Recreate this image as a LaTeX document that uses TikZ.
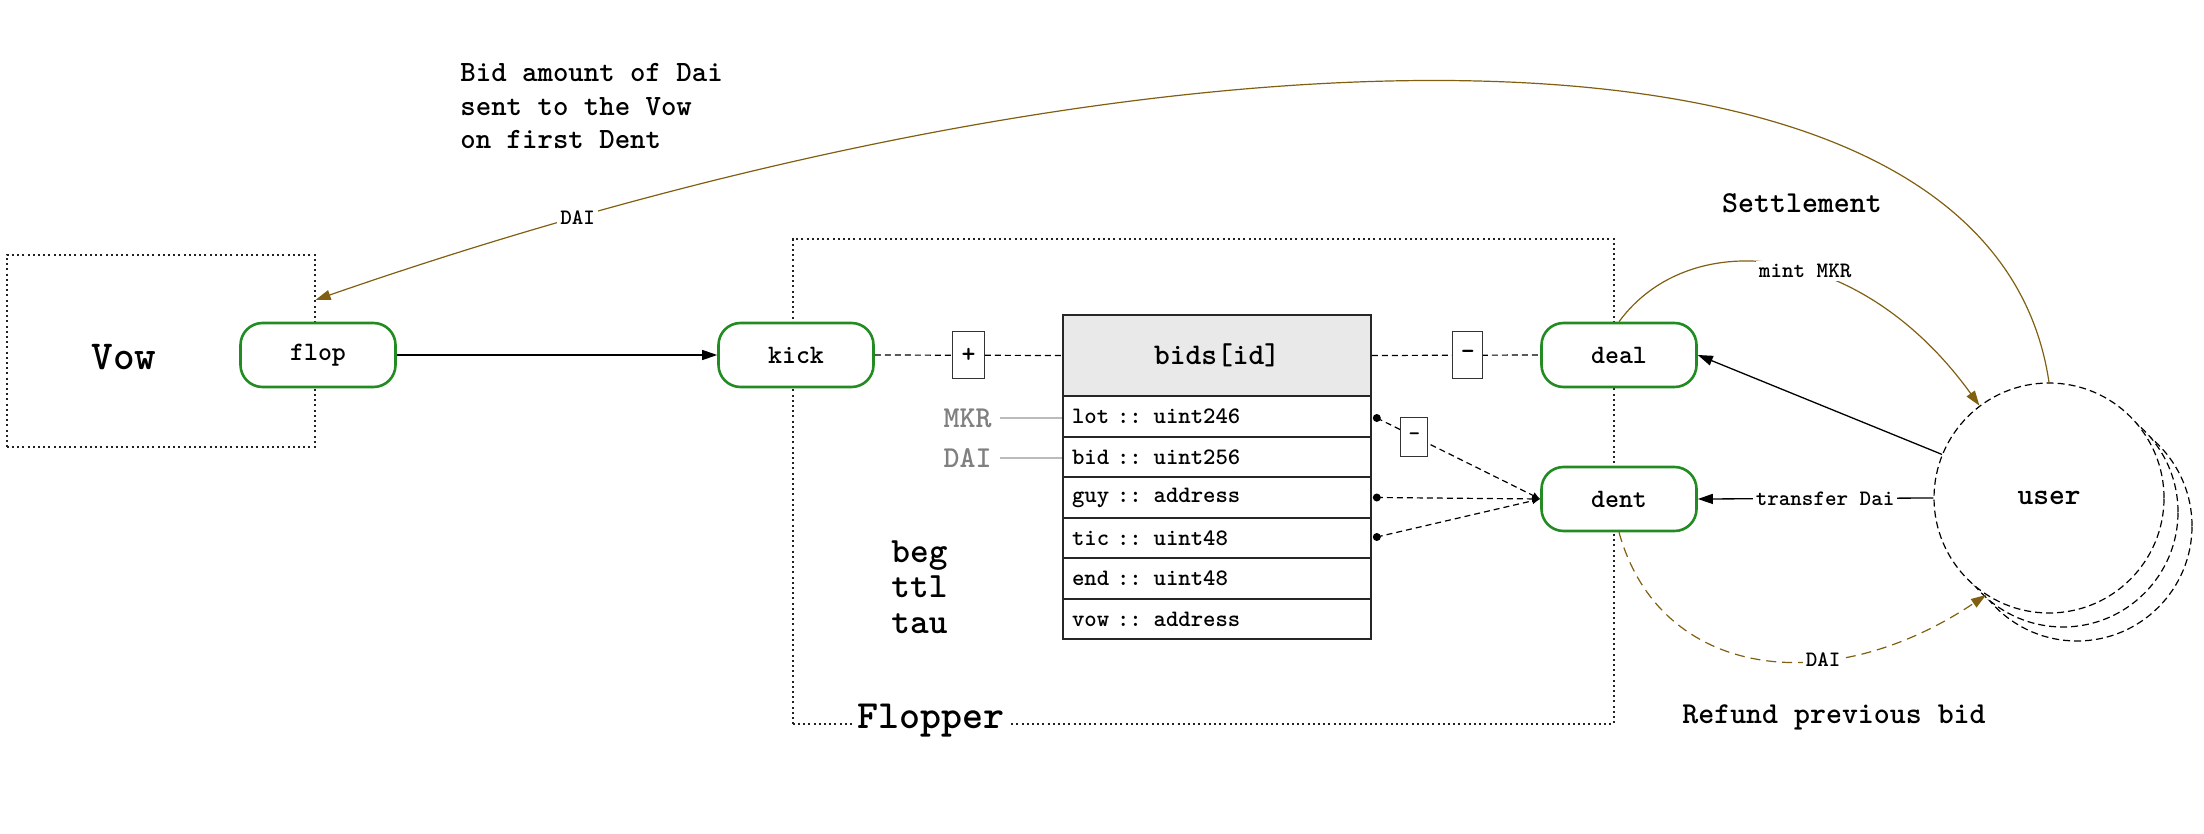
\documentclass[tikz,border=0pt]{standalone}
\usepackage{fontspec}
\usetikzlibrary{arrows.meta,calc}
\definecolor{grn}{RGB}{34,139,34}
\definecolor{brn}{RGB}{128,96,16}
\definecolor{hdr}{HTML}{E9E9E9}
\definecolor{dotc}{HTML}{222222}
\definecolor{txtgray}{HTML}{808080}
\definecolor{lgray}{HTML}{BBBBBB}
\newcommand\fsz[2]{\fontsize{#1}{#2}\selectfont\ttfamily\bfseries}
\begin{document}
\begin{tikzpicture}[x=0.5pt,y=-0.5pt,
  fn/.style={draw=grn, fill=white, solid, line width=1.3pt, rounded corners=11pt, minimum width=77.5pt, minimum height=32pt, inner sep=0pt, font=\fsz{13.3}{16}},
  grp/.style={draw=dotc, line width=0.8pt, dash pattern=on 1pt off 1.6pt},
  sign/.style={draw=black!80, fill=white, solid, line width=0.5pt, minimum width=16pt, minimum height=23.5pt, inner sep=0pt, font=\fsz{13.3}{16}},
  cell/.style={draw=black!85, line width=0.8pt, minimum height=20.25pt, inner xsep=4.5pt, inner ysep=0pt, text width=145pt, align=left, font=\fsz{11.8}{14}},
  hd/.style={cell, fill=hdr, minimum height=40.5pt, align=center, font=\fsz{15}{18}},
  dashln/.style={line width=0.6pt, dash pattern=on 3pt off 2pt},
  brnln/.style={draw=brn, line width=0.6pt},
  tip/.style={-{Triangle[length=7.5pt,width=5pt]}},
  smalltip/.style={-{Latex[length=4pt,width=3.5pt]}},
  usr/.style={circle, draw, fill=white, minimum size=115pt, inner sep=0pt, line width=0.6pt, dash pattern=on 3.5pt off 2pt, font=\fsz{15}{18}},
  lbl/.style={fill=white, inner sep=1.5pt, font=\fsz{11}{13}},
  txt/.style={inner sep=0pt},
  graytxt/.style={txt, text=txtgray, font=\fsz{15.2}{18}}
]
\useasboundingbox (0,0) rectangle (2204,834);

% group boxes
\node[grp, anchor=north west, minimum width=154pt, minimum height=96pt, inner sep=0pt] (vow) at (6,254) {};
\node[txt, font=\fsz{20.6}{24}] (vowt) at (124,357) {Vow};
\node[grp, anchor=north west, minimum width=410.5pt, minimum height=242.5pt, inner sep=0pt] (flopper) at (792,238) {};
\node[fill=white, inner sep=2pt, font=\fsz{20}{24}] (flopperlbl) at (931,721) {Flopper};

% function nodes
\node[fn] (flop) at (318,355) {flop};
\node[fn] (kick) at (796,355) {kick};
\node[fn] (deal) at (1619,355) {deal};
\node[fn] (dent) at (1619,499) {dent};

% table
\node[hd] (bids) at (1217,355.5) {bids[id]};
\node[cell] (r1) at (1217,416.5) {lot :: uint246};
\node[cell] (r2) at (1217,457) {bid :: uint256};
\node[cell] (r3) at (1217,497.5) {guy :: address};
\node[cell] (r4) at (1217,538) {tic :: uint48};
\node[cell] (r5) at (1217,578.5) {end :: uint48};
\node[cell] (r6) at (1217,619) {vow :: address};

% side labels
\node[graytxt, anchor=east] (mkr) at (992,418) {MKR};
\node[graytxt, anchor=east] (dai) at (992,458) {DAI};
\draw[lgray, line width=0.7pt] ($(mkr.east)+(8,0)$) -- (mkr.east -| r1.west);
\draw[lgray, line width=0.7pt] ($(dai.east)+(8,0)$) -- (dai.east -| r2.west);
\node[txt, anchor=west, align=left, font=\fsz{17.8}{17.75}] (params) at (891,587) {beg\\ttl\\tau};

% user circles
\node[usr] (user3) at (2077,526) {};
\node[usr] (user2) at (2063,512) {};
\node[usr] (user) at (2049,498) {user};

% texts
\node[txt, anchor=west, align=left, font=\fsz{14.7}{16.75}] (note) at (460,106.5) {Bid amount of Dai\\sent to the Vow\\on first Dent};
\node[txt, font=\fsz{15.2}{18}] (settle) at (1802,203) {Settlement};
\node[txt, font=\fsz{15.2}{18}] (refund) at (1834,717) {Refund previous bid};

% connectors
\draw[tip, line width=0.65pt] (flop) -- (kick);
\draw[dashln] (kick.east) -- node[sign] (plus) {+} (bids.west);
\draw[dashln] (bids.east) -- node[sign, pos=0.57, minimum width=15pt] (minus) {-} (deal.west);

\coordinate (d1) at ($(r1.east)+(5,1.5)$);
\coordinate (d3) at ($(r3.east)+(5,0)$);
\coordinate (d4) at ($(r4.east)+(5,-1)$);
\draw[dashln, smalltip] (d1) -- node[sign, pos=0.23, minimum width=13.5pt, minimum height=19.5pt, font=\fsz{11}{13}] (minus2) {-} (dent.west);
\draw[dashln, smalltip] (d3) -- (dent.west);
\draw[dashln, smalltip] (d4) -- (dent.west);
\fill (d1) circle (2pt);
\fill (d3) circle (2pt);
\fill (d4) circle (2pt);

\draw[tip, line width=0.65pt] (user) -- (deal.east);
\draw[tip, line width=0.65pt] (user.west) -- node[lbl, pos=0.46] (tdai) {transfer Dai} (dent.east);

\coordinate (vowin) at ($(vow.north east)!0.237!(vow.south east)$);
\draw[brnln, tip] (user.north) .. controls (1990,-20) and (1150,10) .. node[pos=0.895, lbl] (dai1) {DAI} (vowin);
\draw[brnln, tip] (deal.north) .. controls (1690,225) and (1860,240) .. node[pos=0.56, lbl] (mint) {mint MKR} (user.127);
\draw[brnln, tip, dash pattern=on 5pt off 3pt] (dent.south) .. controls (1660,680) and (1830,700) .. node[pos=0.65, lbl] (dai2) {DAI} (user.237);
\end{tikzpicture}
\end{document}
